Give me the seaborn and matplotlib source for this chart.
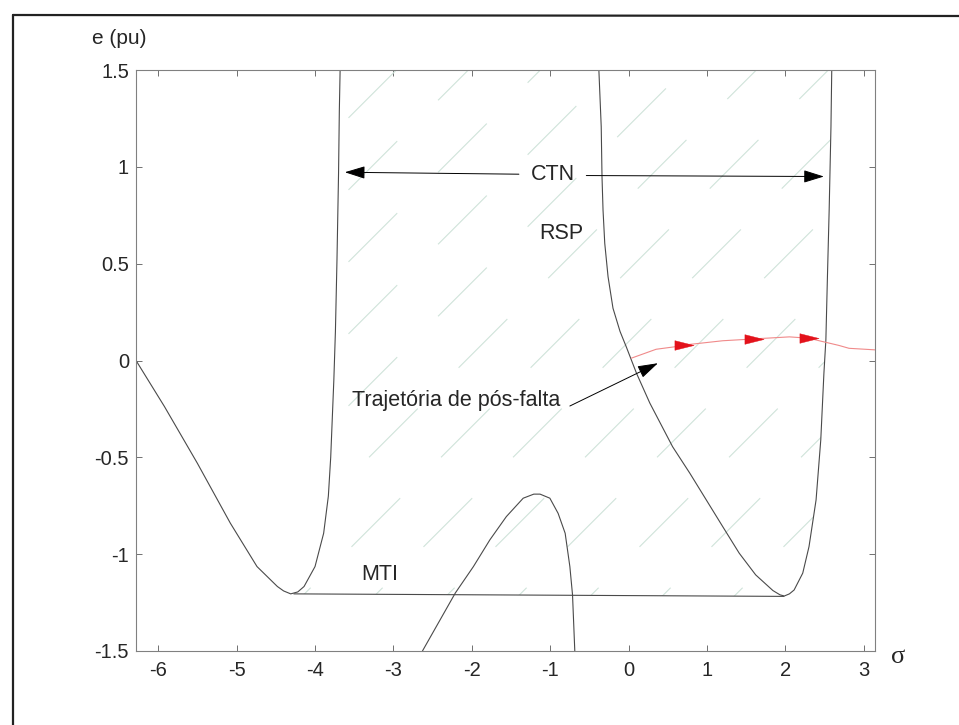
import numpy as np
import pandas as pd
import matplotlib
matplotlib.use("Agg")
import matplotlib.pyplot as plt
from matplotlib.lines import Line2D
from matplotlib.patches import Polygon
import seaborn as sns

# ---------------- data ----------------
left_sigma = [-6.283, -5.92, -5.50, -5.08, -4.74, -4.48, -4.40, -4.31, -4.22, -4.14,
              -4.00, -3.89, -3.83, -3.80, -3.78, -3.76, -3.74, -3.72, -3.70, -3.69, -3.68]
left_e = [0.0, -0.238, -0.531, -0.84, -1.064, -1.167, -1.19, -1.205, -1.195, -1.167,
          -1.064, -0.892, -0.70, -0.50, -0.30, -0.10, 0.15, 0.52, 0.967, 1.29, 1.5]

mti_sigma = [-4.27, 1.98]
mti_e = [-1.205, -1.218]

hump_sigma = [-2.63, -2.21, -1.98, -1.77, -1.56, -1.345, -1.21, -1.13, -1.005,
              -0.90, -0.81, -0.75, -0.716, -0.687]
hump_e = [-1.5, -1.20, -1.064, -0.926, -0.806, -0.711, -0.69, -0.69, -0.711,
          -0.789, -0.892, -1.064, -1.21, -1.5]

rsp_sigma = [-0.38, -0.35, -0.34, -0.327, -0.305, -0.263, -0.20, -0.11, -0.03, 0.10,
             0.27, 0.56, 0.78, 0.99, 1.20, 1.41, 1.62, 1.84, 1.93, 1.985, 2.05, 2.11,
             2.22, 2.30, 2.39, 2.45, 2.49, 2.515, 2.535, 2.557, 2.58, 2.59]
rsp_e = [1.5, 1.207, 0.949, 0.777, 0.605, 0.433, 0.27, 0.15, 0.07, -0.066,
         -0.22, -0.445, -0.582, -0.72, -0.858, -0.995, -1.107, -1.188, -1.21, -1.216, -1.205, -1.185,
         -1.098, -0.961, -0.72, -0.41, -0.066, 0.106, 0.433, 0.777, 1.207, 1.5]

traj_sigma = [0.034, 0.35, 0.61, 0.71, 1.20, 1.54, 1.62, 2.05, 2.30, 2.45, 2.68, 2.81, 3.14]
traj_e = [0.012, 0.058, 0.072, 0.080, 0.102, 0.110, 0.112, 0.122, 0.115, 0.100, 0.078, 0.063, 0.055]

arrow_sigma = [0.71, 1.60, 2.30]
arrow_e = [0.080, 0.111, 0.115]

x_ticks = [-6, -5, -4, -3, -2, -1, 0, 1, 2, 3]
y_ticks = [-1.5, -1, -0.5, 0, 0.5, 1, 1.5]
y_ticklabels = ["-1.5", "-1", "-0.5", "0", "0.5", "1", "1.5"]

# ---------------- style ----------------
sns.set_style("ticks")
plt.rcParams["font.family"] = ["Liberation Sans", "DejaVu Sans"]

fig = plt.figure(figsize=(9.59, 7.25), dpi=100)
ax = fig.add_axes([136 / 959, 1 - 651 / 725, (875 - 136) / 959, (651 - 70) / 725])

curve_col = "#4a4a4a"
lw = 0.8

def line(xs, ys, **kw):
    df = pd.DataFrame({"s": xs, "e": ys})
    sns.lineplot(data=df, x="s", y="e", sort=False, estimator=None, ax=ax, **kw)

ax.set_xlim(-2 * np.pi, np.pi)
ax.set_ylim(-1.5, 1.5)

# hatched stability region (light diagonal dashes)
imin_l = int(np.argmin(left_e))
imin_r = int(np.argmin(rsp_e))
poly_x = list(left_sigma[imin_l:][::-1]) + [mti_sigma[1]] + list(rsp_sigma[imin_r:])
poly_y = list(left_e[imin_l:][::-1]) + [mti_e[1]] + list(rsp_e[imin_r:])
region = Polygon(np.column_stack([poly_x, poly_y]), closed=True, facecolor="none",
                 edgecolor="none", transform=ax.transData)
ax.add_patch(region)
slope = (739 / 9.4248) / (581 / 3.0)
spacing = 72 / (739 / 9.4248)
offs = np.arange(-12, 6, spacing)
for k, c in enumerate(offs):
    xs = np.array([-7, 4])
    ys = -0.3 + slope * (xs - c)
    h, = ax.plot(xs, ys, color="#cfe3da", lw=0.8, dash_capstyle="butt", zorder=1)
    h.set_dashes((62, 52))
    h.set_clip_path(region)

# curves
line(left_sigma, left_e, color=curve_col, lw=lw)
line(mti_sigma, mti_e, color=curve_col, lw=lw)
line(hump_sigma, hump_e, color=curve_col, lw=lw)
line(rsp_sigma, rsp_e, color=curve_col, lw=lw)
line(traj_sigma, traj_e, color="#f08a8a", lw=0.8)
arrow_marker = [(-1.0, -0.5), (1.0, 0.0), (-1.0, 0.5), (-1.0, -0.5)]
sns.scatterplot(x=arrow_sigma, y=arrow_e, marker=arrow_marker, s=190, color="#e3121b",
                edgecolor="#e3121b", linewidth=0.3, ax=ax, zorder=5)

# annotations
fs = 15.5
ax.text(-0.96, 0.958, "CTN", ha="center", va="center", fontsize=fs)
aprops = dict(arrowstyle="-|>,head_length=0.9,head_width=0.28", color="black",
              lw=0.7, shrinkA=0, shrinkB=0, mutation_scale=14)
ax.annotate("", xy=(-3.62, 0.972), xytext=(-1.40, 0.962), arrowprops=aprops)
ax.annotate("", xy=(2.49, 0.950), xytext=(-0.54, 0.955), arrowprops=aprops)
ax.text(-0.86, 0.657, "RSP", ha="center", va="center", fontsize=fs)
ax.text(-3.18, -1.107, "MTI", ha="center", va="center", fontsize=fs)
ax.text(-3.53, -0.204, "Trajetória de pós-falta", ha="left", va="center", fontsize=fs)
ax.annotate("", xy=(0.373, -0.014), xytext=(-0.75, -0.235), arrowprops=aprops)

# axes styling (MATLAB-like box)
ax.set_xticks(x_ticks)
ax.set_xticklabels([str(t) for t in x_ticks])
ax.set_yticks(y_ticks)
ax.set_yticklabels(y_ticklabels)
ax.tick_params(axis="both", direction="in", length=4, width=0.7, color="#707070",
               labelsize=14.5, top=True, right=True)
ax.tick_params(axis="x", pad=7)
ax.tick_params(axis="y", pad=5)
for sp in ax.spines.values():
    sp.set_visible(True)
    sp.set_color("#808080")
    sp.set_linewidth(0.8)
ax.set_xlabel("")
ax.set_ylabel("")

fig.text(119 / 959, 1 - 38 / 725, "e (pu)", ha="center", va="center", fontsize=15)
fig.text(898 / 959, 1 - 657 / 725, "σ", ha="center", va="center", fontsize=19,
         family=["Liberation Serif", "DejaVu Serif"])

# outer frame (top and left edges)
fig.add_artist(Line2D([13 / 959, 1.0], [1 - 15 / 725, 1 - 16 / 725], color="#222222", lw=1.6))
fig.add_artist(Line2D([13 / 959, 13 / 959], [1 - 15 / 725, 0.0], color="#222222", lw=1.6))

fig.savefig("out.png", dpi=100, facecolor="white")
